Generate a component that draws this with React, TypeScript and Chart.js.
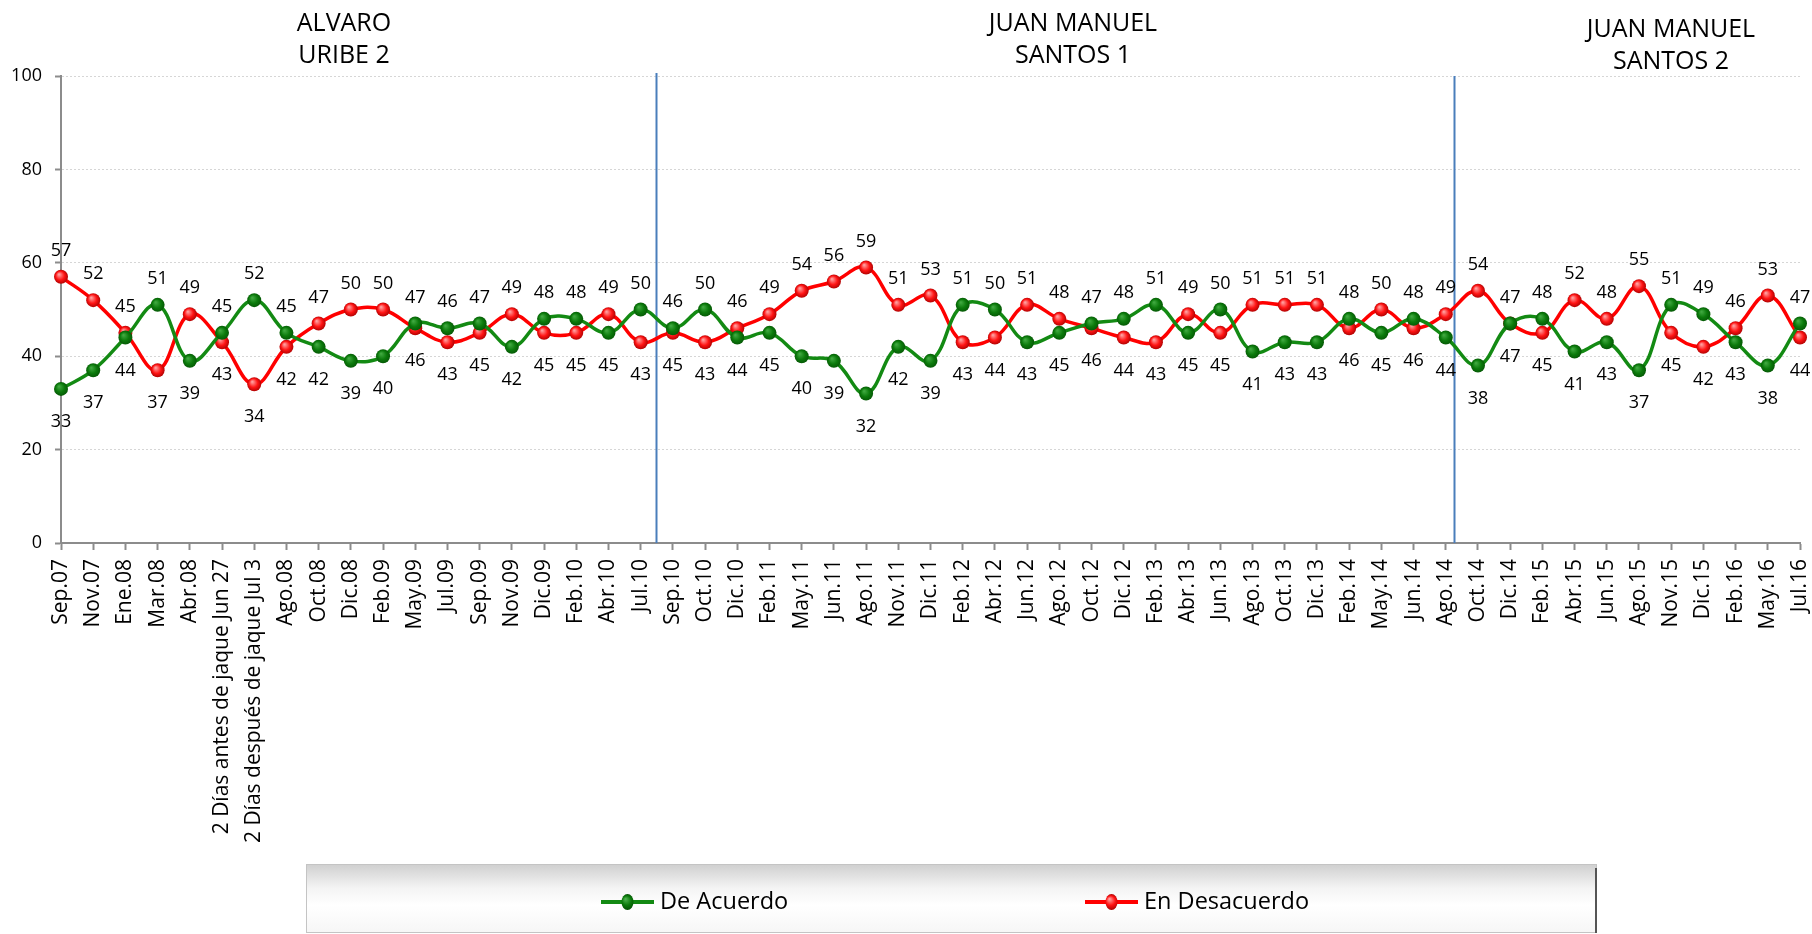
import React, { useEffect, useRef } from 'react';
import { Chart, registerables } from 'chart.js';

Chart.register(...registerables);

const categories = [
  'Sep.07', 'Nov.07', 'Ene.08', 'Mar.08', 'Abr.08', '2 Días antes de jaque Jun 27', '2 Días después de jaque Jul 3',
  'Ago.08', 'Oct.08', 'Dic.08', 'Feb.09', 'May.09', 'Jul.09', 'Sep.09', 'Nov.09', 'Dic.09', 'Feb.10', 'Abr.10',
  'Jul.10', 'Sep.10', 'Oct.10', 'Dic.10', 'Feb.11', 'May.11', 'Jun.11', 'Ago.11', 'Nov.11', 'Dic.11', 'Feb.12',
  'Abr.12', 'Jun.12', 'Ago.12', 'Oct.12', 'Dic.12', 'Feb.13', 'Abr.13', 'Jun.13', 'Ago.13', 'Oct.13', 'Dic.13',
  'Feb.14', 'May.14', 'Jun.14', 'Ago.14', 'Oct.14', 'Dic.14', 'Feb.15', 'Abr.15', 'Jun.15', 'Ago.15', 'Nov.15',
  'Dic.15', 'Feb.16', 'May.16', 'Jul.16',
];

const deAcuerdo = [
  33, 37, 44, 51, 39, 45, 52, 45, 42, 39, 40, 47, 46, 47, 42, 48, 48, 45, 50, 46, 50, 44, 45, 40, 39, 32, 42, 39,
  51, 50, 43, 45, 47, 48, 51, 45, 50, 41, 43, 43, 48, 45, 48, 44, 38, 47, 48, 41, 43, 37, 51, 49, 43, 38, 47,
];

const enDesacuerdo = [
  57, 52, 45, 37, 49, 43, 34, 42, 47, 50, 50, 46, 43, 45, 49, 45, 45, 49, 43, 45, 43, 46, 49, 54, 56, 59, 51, 53,
  43, 44, 51, 48, 46, 44, 43, 49, 45, 51, 51, 51, 46, 50, 46, 49, 54, 47, 45, 52, 48, 55, 45, 42, 46, 53, 44,
];

const seriesNames = ['De Acuerdo', 'En Desacuerdo'];
const yTickValues = [0, 20, 40, 60, 80, 100];
const termTitles = [
  ['ALVARO', 'URIBE 2'],
  ['JUAN MANUEL', 'SANTOS 1'],
  ['JUAN MANUEL', 'SANTOS 2'],
];
// last survey of each government term (divider drawn after it)
const termEnds = [18, 43];

const FONT = '"Open Sans", "Noto Sans", sans-serif';
const GREEN = '#138a13';
const RED = '#ff0000';

function sphere(c: any, stops: string[]) {
  const chart = c.chart;
  const xs = chart.scales && chart.scales.x;
  const ys = chart.scales && chart.scales.y;
  if (!xs || !ys || c.type !== 'data') return stops[1];
  const x = xs.getPixelForValue(c.dataIndex);
  const y = ys.getPixelForValue(c.raw);
  if (!isFinite(x) || !isFinite(y)) return stops[1];
  const g = chart.ctx.createRadialGradient(x - 2, y - 2.5, 0.5, x, y, 7.5);
  g.addColorStop(0, stops[0]);
  g.addColorStop(0.55, stops[1]);
  g.addColorStop(1, stops[2]);
  return g;
}

const dividerPlugin = {
  id: 'dividers',
  beforeDatasetsDraw(chart: any) {
    const { ctx, scales } = chart;
    const xs = scales.x;
    const fr = [0.47, 0.27];
    const tops = [73, 76];
    ctx.save();
    ctx.strokeStyle = '#4a7ebb';
    ctx.lineWidth = 2;
    termEnds.forEach((idx, k) => {
      const a = xs.getPixelForValue(idx);
      const b = xs.getPixelForValue(idx + 1);
      const x = Math.round(a + (b - a) * fr[k]) + 0.5;
      ctx.beginPath();
      ctx.moveTo(x, tops[k]);
      ctx.lineTo(x, chart.chartArea.bottom);
      ctx.stroke();
    });
    ctx.restore();
  },
};

const labelPlugin = {
  id: 'valueLabels',
  afterDatasetsDraw(chart: any) {
    const { ctx } = chart;
    const m0 = chart.getDatasetMeta(0);
    const m1 = chart.getDatasetMeta(1);
    ctx.save();
    ctx.font = `18px ${FONT}`;
    ctx.fillStyle = '#000';
    ctx.textAlign = 'center';
    ctx.textBaseline = 'middle';
    for (let i = 0; i < categories.length; i++) {
      const p0 = m0.data[i];
      const p1 = m1.data[i];
      const v0 = deAcuerdo[i];
      const v1 = enDesacuerdo[i];
      const greenHigher = v0 > v1;
      const hi = greenHigher ? { p: p0, v: v0 } : { p: p1, v: v1 };
      const lo = greenHigher ? { p: p1, v: v1 } : { p: p0, v: v0 };
      ctx.fillText(String(hi.v), hi.p.x, hi.p.y - 26);
      ctx.fillText(String(lo.v), lo.p.x, lo.p.y + 33);
    }
    ctx.restore();
  },
};

const decorPlugin = {
  id: 'decor',
  afterDraw(chart: any) {
    const { ctx } = chart;
    ctx.save();
    // term titles
    ctx.fillStyle = '#000';
    ctx.textAlign = 'center';
    ctx.textBaseline = 'alphabetic';
    ctx.font = `25px ${FONT}`;
    const centers = [344, 1073, 1671];
    const base = [31, 31, 37];
    termTitles.forEach((lines, k) => {
      ctx.fillText(lines[0], centers[k], base[k]);
      ctx.fillText(lines[1], centers[k], base[k] + 32);
    });

    // legend box
    const lx = 306, ly = 864, lw = 1291, lh = 69;
    const g = ctx.createLinearGradient(0, ly, 0, ly + lh);
    g.addColorStop(0, '#cfcfcf');
    g.addColorStop(0.35, '#f4f4f4');
    g.addColorStop(0.6, '#ffffff');
    g.addColorStop(1, '#f6f6f6');
    ctx.fillStyle = g;
    ctx.fillRect(lx, ly, lw, lh);
    ctx.strokeStyle = '#c4c4c4';
    ctx.lineWidth = 1;
    ctx.strokeRect(lx + 0.5, ly + 0.5, lw - 1, lh - 1);
    ctx.strokeStyle = '#555';
    ctx.lineWidth = 2;
    ctx.beginPath();
    ctx.moveTo(lx + lw - 1, ly + 4);
    ctx.lineTo(lx + lw - 1, ly + lh);
    ctx.stroke();

    const itemX = [601, 1085];
    const colors = [GREEN, RED];
    const dotStops = [
      ['#4cb04c', '#0b7a0b', '#044f04'],
      ['#ff9d9d', '#ff1414', '#a80000'],
    ];
    const cy = 902;
    seriesNames.forEach((name, k) => {
      const x0 = itemX[k];
      ctx.strokeStyle = colors[k];
      ctx.lineWidth = 4;
      ctx.beginPath();
      ctx.moveTo(x0, cy);
      ctx.lineTo(x0 + 53, cy);
      ctx.stroke();
      const dx = x0 + 26.5;
      const rg = ctx.createRadialGradient(dx - 2, cy - 3, 0.5, dx, cy, 8);
      rg.addColorStop(0, dotStops[k][0]);
      rg.addColorStop(0.55, dotStops[k][1]);
      rg.addColorStop(1, dotStops[k][2]);
      ctx.fillStyle = rg;
      ctx.beginPath();
      ctx.ellipse(dx, cy, 6, 8, 0, 0, Math.PI * 2);
      ctx.fill();
      ctx.fillStyle = '#000';
      ctx.textAlign = 'left';
      ctx.textBaseline = 'middle';
      ctx.font = `23.5px ${FONT}`;
      ctx.fillText(name, x0 + 59, cy);
    });
    ctx.restore();
  },
};

export default function App() {
  const ref = useRef<HTMLCanvasElement>(null);

  useEffect(() => {
    const canvas = ref.current;
    if (!canvas) return;
    const chart = new Chart(canvas, {
      type: 'line',
      data: {
        labels: categories,
        datasets: [
          {
            label: seriesNames[0],
            data: deAcuerdo,
            borderColor: GREEN,
            borderWidth: 3.5,
            tension: 0.4,
            pointRadius: 7,
            pointBorderWidth: 0,
            pointBackgroundColor: (c: any) => sphere(c, ['#3fa83f', '#0b7a0b', '#055505']),
            pointHoverRadius: 7,
          },
          {
            label: seriesNames[1],
            data: enDesacuerdo,
            borderColor: RED,
            borderWidth: 3.5,
            tension: 0.4,
            pointRadius: 7,
            pointBorderWidth: 0,
            pointBackgroundColor: (c: any) => sphere(c, ['#ff9d9d', '#ff1414', '#a80000']),
            pointHoverRadius: 7,
          },
        ],
      },
      options: {
        responsive: true,
        maintainAspectRatio: false,
        animation: false,
        events: [],
        layout: { padding: { top: 76, right: 12, left: 0, bottom: 0 } },
        plugins: {
          legend: { display: false },
          tooltip: { enabled: false },
          title: { display: false },
        },
        scales: {
          x: {
            type: 'category',
            offset: false,
            grid: {
              drawOnChartArea: false,
              drawTicks: true,
              tickLength: 7,
              tickColor: '#8c8c8c',
              tickWidth: 2,
            },
            border: { display: true, color: '#8c8c8c', width: 2 },
            ticks: {
              autoSkip: false,
              maxRotation: 90,
              minRotation: 90,
              padding: 9,
              color: '#000',
              font: { family: FONT, size: 21 },
            },
            afterFit: (s: any) => {
              s.height = 391;
              s.paddingLeft = 0;
              s.paddingRight = 0;
            },
          },
          y: {
            min: 0,
            max: 100,
            afterBuildTicks: (s: any) => {
              s.ticks = yTickValues.map((v) => ({ value: v }));
            },
            grid: {
              color: (c: any) => (c.tick && c.tick.value === 0 ? 'rgba(0,0,0,0)' : '#d6d6d6'),
              lineWidth: 1,
              tickLength: 6,
              tickColor: '#8c8c8c',
              tickWidth: 2,
            },
            border: { display: true, color: '#8c8c8c', width: 2, dash: [2, 2] },
            ticks: {
              padding: 13,
              color: '#000',
              font: { family: FONT, size: 18 },
            },
            afterFit: (s: any) => {
              s.width = 61;
            },
          },
        },
      },
      plugins: [dividerPlugin, labelPlugin, decorPlugin],
    } as any);
    return () => chart.destroy();
  }, []);

  return (
    <div style={{ position: 'fixed', left: 0, top: 0, width: 1812, height: 934, background: '#fff' }}>
      <canvas ref={ref} />
    </div>
  );
}
